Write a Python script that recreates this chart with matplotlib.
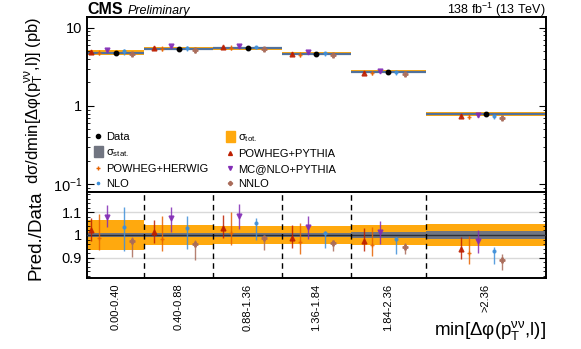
import matplotlib
matplotlib.use('Agg')
import matplotlib.pyplot as plt
import numpy as np
from matplotlib.lines import Line2D
from matplotlib.patches import Patch
from matplotlib.ticker import FixedLocator, FixedFormatter, AutoMinorLocator, LogLocator, NullFormatter

plt.rcParams['font.family'] = ['Liberation Sans', 'DejaVu Sans']
plt.rcParams['mathtext.fontset'] = 'custom'
plt.rcParams['mathtext.rm'] = 'Liberation Sans'
plt.rcParams['mathtext.it'] = 'Liberation Sans:italic'
plt.rcParams['mathtext.bf'] = 'Liberation Sans:bold'

# bin edges and labels
bin_edges = [0.0, 0.40, 0.88, 1.36, 1.84, 2.36, 3.2]
bin_labels = ['0.00-0.40', '0.40-0.88', '0.88-1.36', '1.36-1.84', '1.84-2.36', '>2.36']

# measured cross section (pb) and relative uncertainties
data_xs = [4.81, 5.42, 5.46, 4.67, 2.74, 0.789]
tot_unc = [0.068, 0.045, 0.040, 0.038, 0.044, 0.050]
stat_unc = [0.010, 0.009, 0.009, 0.010, 0.012, 0.016]

# predictions as ratio to data: central, upper end, lower end of error bar
pp_ratio = [1.022, 1.012, 1.033, 0.988, 0.975, 0.939]
pp_hi = [1.076, 1.067, 1.089, 1.044, 1.030, 0.990]
pp_lo = [0.975, 0.966, 0.985, 0.941, 0.929, 0.893]

ph_ratio = [0.985, 0.981, 1.007, 0.967, 0.956, 0.920]
ph_hi = [1.092, 1.084, 1.102, 1.055, 1.037, 0.996]
ph_lo = [0.933, 0.930, 0.956, 0.916, 0.908, 0.872]

mc_ratio = [1.081, 1.074, 1.086, 1.037, 1.012, 0.975]
mc_hi = [1.133, 1.123, 1.136, 1.086, 1.062, 1.022]
mc_lo = [1.034, 1.015, 1.025, 0.981, 0.959, 0.921]

nlo_ratio = [1.037, 1.030, 1.052, 1.008, 0.984, 0.929]
nlo_hi = [1.123, 1.084, 1.074, 1.019, 0.990, 0.945]
nlo_lo = [0.929, 0.936, 0.978, 0.941, 0.914, 0.871]

nnlo_ratio = [0.973, 0.959, 0.988, 0.966, 0.947, 0.889]
nnlo_hi = [0.993, 0.978, 1.000, 0.978, 0.963, 0.914]
nnlo_lo = [0.904, 0.889, 0.933, 0.929, 0.914, 0.844]

models = [
    ('POWHEG+PYTHIA', pp_ratio, pp_hi, pp_lo, '#bd1f01', '^', 3.5),
    ('POWHEG+HERWIG', ph_ratio, ph_hi, ph_lo, '#e76300', '+', 3.5),
    ('MC@NLO+PYTHIA', mc_ratio, mc_hi, mc_lo, '#832db6', 'v', 3.5),
    ('NLO', nlo_ratio, nlo_hi, nlo_lo, '#3f90da', 'o', 2.0),
    ('NNLO', nnlo_ratio, nnlo_hi, nnlo_lo, '#a96b59', 'P', 3.5),
]
offsets = {'POWHEG+PYTHIA': -3, 'POWHEG+HERWIG': -2, 'MC@NLO+PYTHIA': -1,
           'NLO': 1, 'NNLO': 2}
step = 0.057

edges = np.array(bin_edges)
centers = 0.5 * (edges[:-1] + edges[1:])
data = np.array(data_xs)
tot = np.array(tot_unc)
stat = np.array(stat_unc)

fig = plt.figure(figsize=(5.81, 3.49), dpi=100)
ax = fig.add_axes([0.1497, 0.4499, 0.7901, 0.5014])
rax = fig.add_axes([0.1497, 0.2034, 0.7901, 0.2465], sharex=ax)

c_tot = '#ffa90e'
c_stat = '#717581'
lab_tot = 'σ$_{\\mathrm{tot.}}$'
lab_stat = 'σ$_{\\mathrm{stat.}}$'

# upper panel
ax.stairs(data * (1 + tot), edges, baseline=data * (1 - tot), fill=True,
          color=c_tot, zorder=1)
ax.stairs(data * (1 + stat), edges, baseline=data * (1 - stat), fill=True,
          color=c_stat, zorder=2)
ax.hlines(data, edges[:-1], edges[1:], color='#52719a', lw=1.6, zorder=2)
ax.plot(centers, data, 'o', color='black', ms=3.2, zorder=5)

leg_handles = {
    'Data': Line2D([], [], ls='none', marker='o', color='black', ms=3),
    lab_tot: Patch(color=c_tot),
    lab_stat: Patch(color=c_stat),
}
for name, r, hi, lo, col, mk, ms in models:
    x = centers + offsets[name] * step
    r = np.array(r)
    yerr = [(r - np.array(lo)) * data, (np.array(hi) - r) * data]
    ax.errorbar(x, r * data, yerr=yerr, fmt=mk, color=col, ms=ms, mew=1.0,
                elinewidth=1.0, alpha=0.85, zorder=4)
    rax.errorbar(x, r, yerr=[r - np.array(lo), np.array(hi) - r], fmt=mk,
                 color=col, ms=ms, mew=1.0, elinewidth=1.0, alpha=0.85, zorder=4)
    leg_handles[name] = Line2D([], [], ls='none', marker=mk, color=col,
                               ms=ms * 0.8, mew=1.0)

ax.set_yscale('log')
ax.set_ylim(0.079, 13.8)
ax.set_xlim(edges[0], edges[-1])
ax.yaxis.set_major_locator(FixedLocator([0.1, 1, 10]))
ax.yaxis.set_major_formatter(FixedFormatter([r'$10^{-1}$', '1', '10']))
ax.yaxis.set_minor_locator(LogLocator(base=10, subs=np.arange(2, 10)))
ax.yaxis.set_minor_formatter(NullFormatter())
ax.tick_params(axis='y', which='both', direction='in', left=True, right=True, labelsize=10.5)
ax.tick_params(axis='y', which='major', length=5)
ax.tick_params(axis='y', which='minor', length=2.5)
ax.tick_params(axis='x', which='both', bottom=False, labelbottom=False)

ax.set_ylabel('dσ/dmin[Δφ(p$_{\\mathrm{T}}^{\\mathrm{νν}}$,l)] (pb)',
              fontsize=12, ha='right')
ax.yaxis.set_label_coords(-0.09, 1.0)

ax.text(0.0, 1.017, 'CMS', transform=ax.transAxes, fontsize=11.5,
        fontweight='bold', va='baseline', ha='left')
ax.text(0.0893, 1.017, 'Preliminary', transform=ax.transAxes, fontsize=9,
        fontstyle='italic', va='baseline', ha='left')
ax.text(1.0, 1.017, '138 fb$^{-1}$ (13 TeV)', transform=ax.transAxes,
        fontsize=9, va='baseline', ha='right')

order = ['Data', lab_stat, 'POWHEG+HERWIG', 'NLO',
         lab_tot, 'POWHEG+PYTHIA', 'MC@NLO+PYTHIA', 'NNLO']
leg = ax.legend([leg_handles[k] for k in order], order, ncol=2, loc='upper left',
                bbox_to_anchor=(0.0, 0.385), frameon=False, fontsize=8,
                handlelength=0.8, handleheight=1.1, handletextpad=0.3,
                columnspacing=1.6, labelspacing=0.35, borderaxespad=0.2)

# ratio panel
rax.stairs(1 + tot, edges, baseline=1 - tot, fill=True, color=c_tot, zorder=1)
rax.stairs(1 + stat, edges, baseline=1 - stat, fill=True, color=c_stat, zorder=2)
rax.axhline(1.0, color='#2b2f36', lw=1.0, zorder=3)
for yv in [0.9, 1.1]:
    rax.axhline(yv, color='#d9d9d9', lw=1.0, zorder=0)
for xe in edges[1:-1]:
    rax.axvline(xe, color='black', lw=1.0, ls=(0, (4, 3)), zorder=3)

rax.set_ylim(0.81, 1.19)
rax.yaxis.set_major_locator(FixedLocator([0.9, 1.0, 1.1]))
rax.yaxis.set_major_formatter(FixedFormatter(['0.9', '1', '1.1']))
rax.yaxis.set_minor_locator(AutoMinorLocator(5))
rax.tick_params(axis='y', which='both', direction='in', left=True, right=True, labelsize=10.5)
rax.tick_params(axis='y', which='major', length=5)
rax.tick_params(axis='y', which='minor', length=2.5)
rax.set_xticks(centers)
rax.set_xticklabels(bin_labels, rotation=90, fontsize=8)
rax.tick_params(axis='x', which='both', length=0, pad=4)
rax.set_ylabel('Pred./Data', fontsize=13.5)
rax.yaxis.set_label_coords(-0.093, 0.5)
rax.set_xlabel('min[Δφ(p$_{\\mathrm{T}}^{\\mathrm{νν}}$,l)]', fontsize=13.5, ha='right')
rax.xaxis.set_label_coords(1.0, -0.48)

for a in (ax, rax):
    for s in a.spines.values():
        s.set_linewidth(1.4)

plt.savefig('out.png', dpi=100)
